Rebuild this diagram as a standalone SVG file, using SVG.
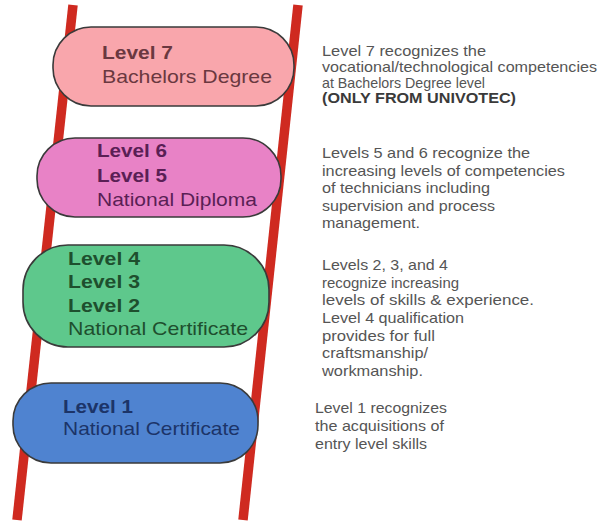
<svg xmlns="http://www.w3.org/2000/svg" width="604" height="527" viewBox="0 0 604 527">
<style>
.rail{stroke:#cf2a20;stroke-width:9.5;stroke-linecap:butt;fill:none}
.box{stroke:#3a3a3a;stroke-width:1.6}
.lvl{font-family:"Liberation Sans",Arial,sans-serif;font-size:19px;font-weight:bold}
.nm{font-family:"Liberation Sans",Arial,sans-serif;font-size:19px}
.d{font-family:"Liberation Sans",Arial,sans-serif;font-size:14.5px;fill:#555555}
.db{font-family:"Liberation Sans",Arial,sans-serif;font-size:14.5px;font-weight:bold;fill:#3a3a3a}
</style>
<rect width="604" height="527" fill="#ffffff"/>
<g id="connectors">
<line class="rail" x1="73" y1="5" x2="17" y2="520"/>
<line class="rail" x1="298" y1="5" x2="243" y2="520"/>
</g>
<g id="level7">
<rect class="box" x="53" y="27" width="241" height="79" rx="38" fill="#f9a6ac"/>
<text class="lvl" x="102" y="59" fill="#6a3840" textLength="71" lengthAdjust="spacingAndGlyphs">Level 7</text>
<text class="nm" x="102" y="83" fill="#6a3840" textLength="170" lengthAdjust="spacingAndGlyphs">Bachelors Degree</text>
</g>
<g id="level65">
<rect class="box" x="37" y="138" width="244" height="79" rx="38" fill="#e882c6"/>
<text class="lvl" x="97" y="157" fill="#5a1f55" textLength="70" lengthAdjust="spacingAndGlyphs">Level 6</text>
<text class="lvl" x="97" y="182" fill="#5a1f55" textLength="70" lengthAdjust="spacingAndGlyphs">Level 5</text>
<text class="nm" x="97" y="206" fill="#5a1f55" textLength="160" lengthAdjust="spacingAndGlyphs">National Diploma</text>
</g>
<g id="level432">
<rect class="box" x="23" y="245" width="246" height="102" rx="45" fill="#5ec88c"/>
<text class="lvl" x="68" y="265" fill="#1e4f2e" textLength="72" lengthAdjust="spacingAndGlyphs">Level 4</text>
<text class="lvl" x="68" y="288" fill="#1e4f2e" textLength="72" lengthAdjust="spacingAndGlyphs">Level 3</text>
<text class="lvl" x="68" y="312" fill="#1e4f2e" textLength="72" lengthAdjust="spacingAndGlyphs">Level 2</text>
<text class="nm" x="68" y="335" fill="#1e4f2e" textLength="180" lengthAdjust="spacingAndGlyphs">National Certificate</text>
</g>
<g id="level1">
<rect class="box" x="13" y="383" width="245" height="80" rx="38" fill="#4f83d0"/>
<text class="lvl" x="63" y="413" fill="#1c3468" textLength="70" lengthAdjust="spacingAndGlyphs">Level 1</text>
<text class="nm" x="63" y="435" fill="#1c3468" textLength="177" lengthAdjust="spacingAndGlyphs">National Certificate</text>
</g>
<g id="desc7">
<text class="d" x="322" y="56" textLength="164" lengthAdjust="spacingAndGlyphs">Level 7 recognizes the</text>
<text class="d" x="322" y="72" textLength="275" lengthAdjust="spacingAndGlyphs">vocational/technological competencies</text>
<text class="d" x="322" y="88" textLength="163" lengthAdjust="spacingAndGlyphs">at Bachelors Degree level</text>
<text class="db" x="322" y="103" textLength="194" lengthAdjust="spacingAndGlyphs">(ONLY FROM UNIVOTEC)</text>
</g>
<g id="desc65">
<text class="d" x="322" y="158" textLength="208" lengthAdjust="spacingAndGlyphs">Levels 5 and 6 recognize the</text>
<text class="d" x="322" y="176" textLength="243" lengthAdjust="spacingAndGlyphs">increasing levels of competencies</text>
<text class="d" x="322" y="193" textLength="168" lengthAdjust="spacingAndGlyphs">of technicians including</text>
<text class="d" x="322" y="211" textLength="173" lengthAdjust="spacingAndGlyphs">supervision and process</text>
<text class="d" x="322" y="228" textLength="98" lengthAdjust="spacingAndGlyphs">management.</text>
</g>
<g id="desc432">
<text class="d" x="322" y="270" textLength="126" lengthAdjust="spacingAndGlyphs">Levels 2, 3, and 4</text>
<text class="d" x="322" y="288" textLength="137" lengthAdjust="spacingAndGlyphs">recognize increasing</text>
<text class="d" x="322" y="305" textLength="212" lengthAdjust="spacingAndGlyphs">levels of skills &amp; experience.</text>
<text class="d" x="322" y="323" textLength="142" lengthAdjust="spacingAndGlyphs">Level 4 qualification</text>
<text class="d" x="322" y="341" textLength="113" lengthAdjust="spacingAndGlyphs">provides for full</text>
<text class="d" x="322" y="358" textLength="106" lengthAdjust="spacingAndGlyphs">craftsmanship/</text>
<text class="d" x="322" y="376" textLength="101" lengthAdjust="spacingAndGlyphs">workmanship.</text>
</g>
<g id="desc1">
<text class="d" x="315" y="413" textLength="132" lengthAdjust="spacingAndGlyphs">Level 1 recognizes</text>
<text class="d" x="315" y="431" textLength="129" lengthAdjust="spacingAndGlyphs">the acquisitions of</text>
<text class="d" x="315" y="449" textLength="112" lengthAdjust="spacingAndGlyphs">entry level skills</text>
</g>
</svg>
